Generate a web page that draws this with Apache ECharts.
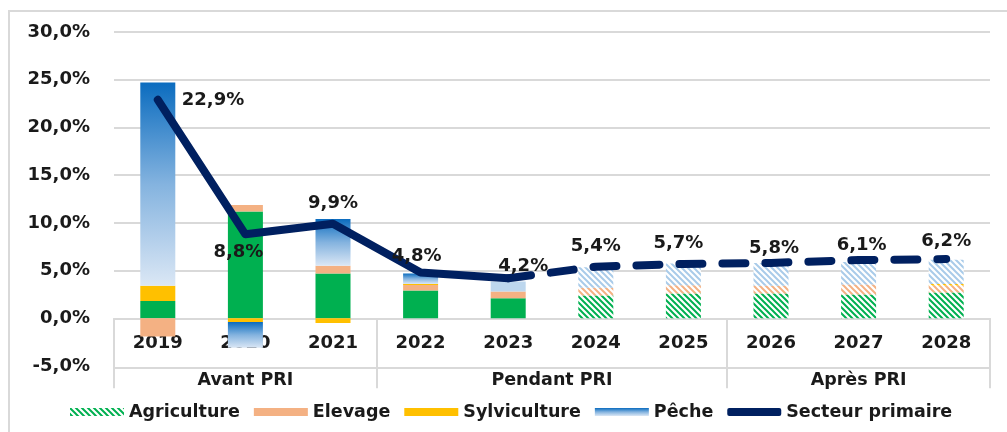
<!DOCTYPE html>
<html>
<head>
<meta charset="utf-8">
<script src="https://cdn.jsdelivr.net/npm/echarts@6/dist/echarts.min.js"></script>
<style>
  body { margin: 0; background: #fff; }
  #main { width: 1007px; height: 432px; }
  #frame { position: absolute; left: 8px; top: 10px; width: 1010px; height: 430px;
           border-left: 2px solid #d9d9d9; border-top: 2px solid #d9d9d9; pointer-events: none; }
</style>
</head>
<body>
<div id="main"></div>
<div id="frame"></div>
<script>
// categories
var years = ["2019", "2020", "2021", "2022", "2023", "2024", "2025", "2026", "2027", "2028"];
var groups = ["Avant PRI", "Pendant PRI", "Après PRI"];
var groupSizes = [3, 4, 3];
var firstProj = 5; // 2024 onwards = projections (hatched, dashed)

// contributions (%)
var agriculture = [1.8, 11.2, 4.7, 2.9, 2.1, 2.4, 2.6, 2.6, 2.5, 2.7];
var elevage = [-1.9, 0.66, 0.8, 0.6, 0.7, 0.8, 0.87, 0.8, 1.05, 0.73];
var sylviculture = [1.6, -0.4, -0.5, 0.1, 0, 0, 0, 0, 0, 0.15];
var peche = [21.3, -2.7, 4.9, 1.1, 1.05, 2.15, 2.28, 2.4, 2.34, 2.55];
var secteur = [22.9, 8.8, 9.9, 4.8, 4.2, 5.4, 5.7, 5.8, 6.1, 6.2];

// label placement for the line values
var labelPlace = [
  { position: "right", distance: 23, offset: [0, 1] },
  { position: "bottom", distance: 8, offset: [-7, 0] },
  { position: "top", distance: 10 },
  { position: "top", distance: 6, offset: [-4, 0] },
  { position: "top", distance: 2, offset: [15, 0] },
  { position: "top", distance: 10 },
  { position: "top", distance: 11, offset: [-5, 0] },
  { position: "top", distance: 5, offset: [3, 0] },
  { position: "top", distance: 5, offset: [3, 0] },
  { position: "top", distance: 8 }
];

var FONT = "DejaVu Sans";
var GREEN = "#00b050", PINK = "#f4b183", YELLOW = "#ffc000", NAVY = "#002060";

function hatch(color) {
  var c = document.createElement("canvas");
  c.width = 6; c.height = 6;
  var ctx = c.getContext("2d");
  ctx.fillStyle = "#fff";
  ctx.fillRect(0, 0, 6, 6);
  ctx.strokeStyle = color;
  ctx.lineWidth = 2;
  ctx.beginPath();
  ctx.moveTo(-1, -1); ctx.lineTo(7, 7);
  ctx.moveTo(-1, 5); ctx.lineTo(1, 7);
  ctx.moveTo(5, -1); ctx.lineTo(7, 1);
  ctx.stroke();
  return { image: c, repeat: "repeat" };
}

var pecheGrad = new echarts.graphic.LinearGradient(0, 0, 0, 1, [
  { offset: 0, color: "#0b6cbf" },
  { offset: 0.5, color: "#84b3df" },
  { offset: 1, color: "#dbe7f5" }
]);

function projData(arr, hatchColor) {
  return arr.map(function (v, i) {
    if (i >= firstProj) return { value: v, itemStyle: { color: hatch(hatchColor) } };
    return v;
  });
}

// group boundaries for the category ticks
var bounds = [0];
groupSizes.forEach(function (s, i) { if (i < groupSizes.length - 1) bounds.push(bounds[i] + s); });
var groupCenters = [];
var acc = 0;
groupSizes.forEach(function (s) { groupCenters.push(acc + s / 2); acc += s; });

var agriData = agriculture.map(function (v, i) {
  return i >= firstProj ? v : { value: v, itemStyle: { color: GREEN } };
});
var pecheData = projData(peche, "#a9cbe9");
pecheData[4] = { value: peche[4], itemStyle: { color: "#bdd7ee" } };

function lineData(from, to) {
  return secteur.map(function (v, i) {
    if (i < from || i > to) return "-";
    var lab = Object.assign({ show: true }, labelPlace[i]);
    return { value: v, label: lab };
  });
}
var solidLine = lineData(0, firstProj - 1);
var dashLine = lineData(firstProj - 1, years.length - 1);
dashLine[firstProj - 1].label = { show: false };

var lineLabel = {
  fontFamily: FONT, fontSize: 18, fontWeight: "bold", color: "#1a1a1a",
  formatter: function (p) { return p.value.toFixed(1).replace(".", ",") + "%"; }
};

var chart = echarts.init(document.getElementById("main"));
chart.setOption({
  animation: false,
  textStyle: { fontFamily: FONT },
  grid: { left: 114, right: 17, top: 32, bottom: 66 },
  legend: {
    left: 70,
    top: 403,
    padding: 0,
    itemWidth: 54,
    itemHeight: 8,
    itemGap: 14,
    icon: "rect",
    textStyle: { fontFamily: FONT, fontSize: 17.5, fontWeight: "bold", color: "#1a1a1a" },
    data: ["Agriculture", "Elevage", "Sylviculture", "Pêche", { name: "Secteur primaire", icon: "roundRect" }]
  },
  xAxis: [
    {
      type: "category",
      data: years,
      position: "bottom",
      axisLine: { onZero: true, lineStyle: { color: "#d9d9d9", width: 2 } },
      axisTick: {
        show: true,
        length: 70,
        interval: function (i) { return bounds.indexOf(i) >= 0; },
        lineStyle: { color: "#d9d9d9", width: 2 }
      },
      axisLabel: { margin: -32, fontSize: 18, fontWeight: "bold", color: "#1a1a1a", fontFamily: FONT },
      splitLine: { show: false }
    },
    {
      type: "value",
      min: 0,
      max: years.length,
      position: "bottom",
      offset: 2,
      axisLine: { show: true, onZero: false, lineStyle: { color: "#d9d9d9", width: 2 } },
      axisTick: { show: false },
      splitLine: { show: false },
      axisLabel: {
        customValues: groupCenters,
        margin: 3,
        fontSize: 17.5,
        fontWeight: "bold",
        color: "#1a1a1a",
        fontFamily: FONT,
        formatter: function (v) {
          var k = groupCenters.indexOf(v);
          return k >= 0 ? groups[k] : "";
        }
      }
    }
  ],
  yAxis: {
    type: "value",
    min: -5,
    max: 30,
    interval: 5,
    axisLine: { show: false },
    axisTick: { show: false },
    axisLabel: {
      margin: 24,
      fontSize: 18,
      fontWeight: "bold",
      color: "#1a1a1a",
      fontFamily: FONT,
      formatter: function (v) { return v.toFixed(1).replace(".", ",") + "%"; }
    },
    splitLine: { show: true, showMinLine: false, lineStyle: { color: "#d9d9d9", width: 2 } }
  },
  series: [
    { name: "Agriculture", type: "bar", stack: "s", barWidth: 35,
      itemStyle: { color: hatch(GREEN) }, data: agriData },
    { name: "Elevage", type: "bar", stack: "s", barWidth: 35,
      itemStyle: { color: PINK }, data: projData(elevage, PINK) },
    { name: "Sylviculture", type: "bar", stack: "s", barWidth: 35,
      itemStyle: { color: YELLOW }, data: projData(sylviculture, YELLOW) },
    { name: "Pêche", type: "bar", stack: "s", barWidth: 35,
      itemStyle: { color: pecheGrad }, data: pecheData },
    { name: "Secteur primaire", type: "line", symbol: "circle", symbolSize: 2, showSymbol: true, z: 5,
      itemStyle: { color: NAVY },
      lineStyle: { color: NAVY, width: 8, cap: "round", join: "round" },
      label: lineLabel,
      data: solidLine },
    { name: "Secteur primaire", type: "line", symbol: "circle", symbolSize: 2, showSymbol: true, z: 5,
      itemStyle: { color: NAVY },
      lineStyle: { color: NAVY, width: 8, type: [23, 20], cap: "round", join: "round" },
      label: lineLabel,
      data: dashLine }
  ]
});
</script>
</body>
</html>
